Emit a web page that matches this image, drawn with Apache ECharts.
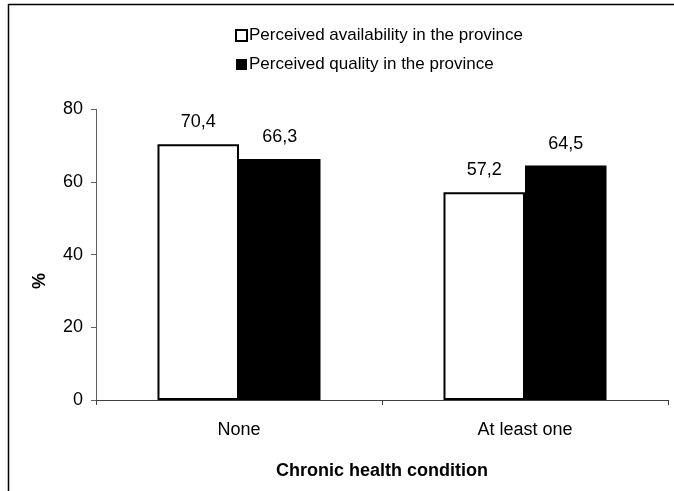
<!DOCTYPE html>
<html>
<head>
<meta charset="utf-8">
<script src="https://cdn.jsdelivr.net/npm/echarts@6/dist/echarts.min.js"></script>
<style>html,body{margin:0;padding:0;background:#fff;}#c{width:674px;height:491px;}</style>
</head>
<body>
<div id="c"></div>
<script>
const categories = ['None', 'At least one'];
const availability = [70.4, 57.2];
const quality = [66.3, 64.5];
const yTicks = [0, 20, 40, 60, 80];
const seriesNames = ['Perceived availability in the province', 'Perceived quality in the province'];
const xTitle = 'Chronic health condition';
const yTitle = '%';

const FONT = '"Liberation Sans", Arial, sans-serif';
const chart = echarts.init(document.getElementById('c'), null, {renderer: 'canvas'});
const fmt = p => String(p.value).replace('.', ',');

chart.setOption({
  animation: false,
  backgroundColor: '#fff',
  textStyle: {fontFamily: FONT},
  legend: {
    orient: 'vertical',
    left: 230, top: 22,
    itemWidth: 11, itemHeight: 11, itemGap: 12,
    icon: 'rect',
    textStyle: {fontFamily: FONT, fontSize: 17, color: '#000', padding: [0, 0, 0, -3]},
    data: seriesNames
  },
  grid: {left: 96, right: 6, top: 109.3, bottom: 91, containLabel: false},
  xAxis: {
    type: 'category',
    data: categories,
    axisLine: {lineStyle: {color: '#404040', width: 1}},
    axisTick: {show: true, length: 5, inside: false, lineStyle: {color: '#404040'}},
    axisLabel: {fontFamily: FONT, fontSize: 18, color: '#000', margin: 21},
    name: xTitle,
    nameLocation: 'middle',
    nameGap: 62,
    nameTextStyle: {fontFamily: FONT, fontSize: 18, fontWeight: 'bold', color: '#000'}
  },
  yAxis: {
    type: 'value',
    min: yTicks[0], max: yTicks[yTicks.length - 1], interval: 20,
    axisLine: {show: true, lineStyle: {color: '#606060', width: 1}},
    axisTick: {show: true, length: 5, lineStyle: {color: '#606060'}},
    splitLine: {show: false},
    axisLabel: {fontFamily: FONT, fontSize: 18, color: '#000', margin: 13}
  },
  graphic: [
    {type: 'line', shape: {x1: 8, y1: 4.5, x2: 674, y2: 4.5}, style: {stroke: '#000', lineWidth: 1.5}},
    {type: 'line', shape: {x1: 8.5, y1: 4, x2: 8.5, y2: 491}, style: {stroke: '#000', lineWidth: 1.5}},
    {type: 'text', x: 40, y: 281, rotation: Math.PI / 2, style: {text: yTitle, font: 'bold 18px ' + FONT, fill: '#000', align: 'center', verticalAlign: 'middle'}}
  ],
  series: [
    {
      name: seriesNames[0], type: 'bar', data: availability,
      barGap: '0%', barCategoryGap: '43%',
      itemStyle: {color: '#fff', borderColor: '#000', borderWidth: 2},
      label: {show: true, position: 'top', distance: 13, formatter: fmt, fontFamily: FONT, fontSize: 18, color: '#000'}
    },
    {
      name: seriesNames[1], type: 'bar', data: quality,
      barGap: '0%', barCategoryGap: '43%',
      itemStyle: {color: '#000', borderColor: '#000', borderWidth: 0},
      label: {show: true, position: 'top', distance: 13, formatter: fmt, fontFamily: FONT, fontSize: 18, color: '#000'}
    }
  ]
});
</script>
</body>
</html>
